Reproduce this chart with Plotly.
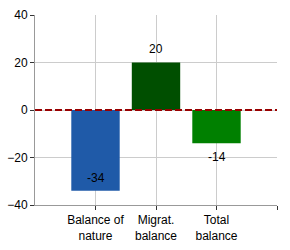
import plotly.graph_objects as go

categories = ["Balance of<br>nature", "Migrat.<br>balance", "Total<br>balance"]
values = [-34, 20, -14]
colors = ["#1f5aa8", "#004f00", "#008000"]
label_inside = [True, False, False]
y_ticks = [-40, -20, 0, 20, 40]

xpos = list(range(len(categories)))
FONT = "Liberation Sans, Arial, sans-serif"

fig = go.Figure()
fig.add_trace(go.Bar(
    x=xpos, y=values, width=0.8,
    marker=dict(color=colors, line=dict(width=0)),
    hoverinfo="skip",
))
fig.add_shape(type="line", xref="paper", x0=0, x1=1, yref="y", y0=0, y1=0,
              line=dict(color="#990000", width=2, dash="7px,3px"))

for x, v, inside in zip(xpos, values, label_inside):
    direction = 1 if v >= 0 else -1
    shift = -13 * direction if inside else 14 * direction
    fig.add_annotation(x=x, y=v, text=str(v), showarrow=False,
                       xanchor="center", yanchor="middle", yshift=shift,
                       font=dict(family=FONT, size=12, color="#000000"))

fig.update_layout(
    width=290, height=250,
    margin=dict(l=35, r=13, t=15, b=45, autoexpand=False),
    plot_bgcolor="white", paper_bgcolor="white",
    showlegend=False,
    font=dict(family=FONT, size=12, color="#000000"),
    xaxis=dict(
        range=[-1, 3],
        tickvals=xpos + [len(categories)],
        ticktext=categories + [""],
        showgrid=True, gridcolor="#cccccc", gridwidth=1,
        ticks="outside", ticklen=4, tickcolor="#333333",
        showline=True, linecolor="#999999", linewidth=1,
        zeroline=False, automargin=False,
    ),
    yaxis=dict(
        range=[-40, 40],
        tickvals=y_ticks,
        showgrid=True, gridcolor="#cccccc", gridwidth=1,
        ticks="outside", ticklen=4, tickcolor="#333333",
        showline=True, linecolor="#999999", linewidth=1,
        zeroline=False, automargin=False,
    ),
)

fig.write_html("out.html")
